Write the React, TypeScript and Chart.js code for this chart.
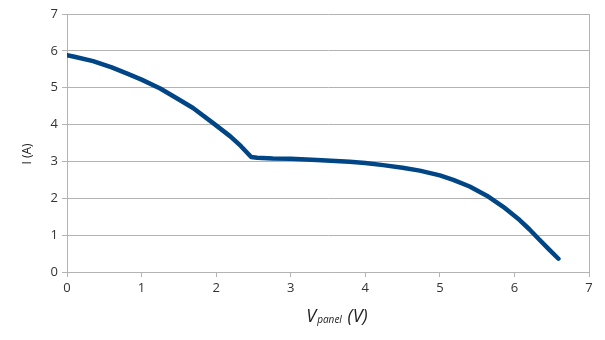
import React, { useEffect, useRef } from "react";
import { Chart, registerables } from "chart.js";

Chart.register(...registerables);

const voltage = [0, 0.1, 0.35, 0.6, 0.8, 1.0, 1.25, 1.5, 1.69, 1.96, 2.19, 2.33, 2.47, 2.55, 2.76, 3.0, 3.35, 3.79, 4.0, 4.24, 4.5, 4.73, 5.0, 5.18, 5.4, 5.63, 5.85, 6.07, 6.2, 6.3, 6.45, 6.59];
const current = [5.88, 5.84, 5.72, 5.55, 5.39, 5.22, 4.98, 4.68, 4.45, 4.04, 3.68, 3.42, 3.12, 3.10, 3.08, 3.07, 3.04, 2.99, 2.96, 2.90, 2.83, 2.75, 2.62, 2.50, 2.32, 2.07, 1.77, 1.41, 1.16, 0.95, 0.64, 0.36];

const xTitleMain = "V";
const xTitleSub = "panel";
const xTitleUnit = " (V)";
const yTitle = "I (A)";

const FONT = "'Open Sans', 'Liberation Sans', sans-serif";
const GRID = "#b3b3b3";

const titlesPlugin = {
  id: "titles",
  afterDraw(chart: any) {
    const ctx = chart.ctx as CanvasRenderingContext2D;
    ctx.save();
    ctx.fillStyle = "#222";
    const big = `italic 18px ${FONT}`;
    const small = `italic 10px ${FONT}`;
    ctx.font = big;
    const w1 = ctx.measureText(xTitleMain).width;
    const w3 = ctx.measureText(xTitleUnit).width;
    ctx.font = small;
    const w2 = ctx.measureText(xTitleSub).width + 2;
    const total = w1 + w2 + w3;
    const cx = (chart.chartArea.left + chart.chartArea.right) / 2 + 9;
    let x = cx - total / 2;
    const base = 322;
    ctx.textBaseline = "alphabetic";
    ctx.textAlign = "left";
    ctx.font = big;
    ctx.fillText(xTitleMain, x, base);
    x += w1 + 1;
    ctx.font = small;
    ctx.fillText(xTitleSub, x, base + 1);
    x += w2 - 1;
    ctx.font = big;
    ctx.fillText(xTitleUnit, x, base);
    ctx.translate(28, 154);
    ctx.rotate(-Math.PI / 2);
    ctx.font = `12px ${FONT}`;
    ctx.textAlign = "center";
    ctx.textBaseline = "middle";
    ctx.fillText(yTitle, 0, 0);
    ctx.restore();
  },
};

export default function App() {
  const ref = useRef<HTMLCanvasElement>(null);
  useEffect(() => {
    document.body.style.margin = "0";
    const chart = new Chart(ref.current!, {
      type: "scatter",
      data: {
        datasets: [
          {
            data: voltage.map((v, i) => ({ x: v, y: current[i] })),
            showLine: true,
            borderColor: "#004586",
            backgroundColor: "#004586",
            borderWidth: 4.5,
            pointRadius: 0,
            tension: 0,
            borderJoinStyle: "round",
            borderCapStyle: "round",
          } as any,
        ],
      },
      options: {
        animation: false,
        responsive: true,
        maintainAspectRatio: false,
        layout: { padding: { left: 0, right: 16, top: 14, bottom: 0 } },
        plugins: { legend: { display: false }, tooltip: { enabled: false } },
        scales: {
          x: {
            type: "linear",
            min: 0,
            max: 7,
            ticks: { stepSize: 1, color: "#333", font: { family: FONT, size: 13 }, padding: 3 },
            grid: {
              color: (c: any) => (c.tick && c.tick.value === 7 ? GRID : "rgba(0,0,0,0)"),
              tickColor: GRID,
              tickLength: 5,
            },
            border: { color: GRID },
            afterFit: (s: any) => {
              s.height = 68;
            },
          },
          y: {
            min: 0,
            max: 7,
            ticks: { stepSize: 1, color: "#333", font: { family: FONT, size: 13 }, padding: 4 },
            grid: { color: GRID, tickColor: GRID, tickLength: 5 },
            border: { color: GRID },
            afterFit: (s: any) => {
              s.width = 67;
            },
          },
        },
      },
      plugins: [titlesPlugin],
    });
    return () => chart.destroy();
  }, []);
  return (
    <div style={{ position: "relative", width: 605, height: 340 }}>
      <canvas ref={ref} />
    </div>
  );
}
